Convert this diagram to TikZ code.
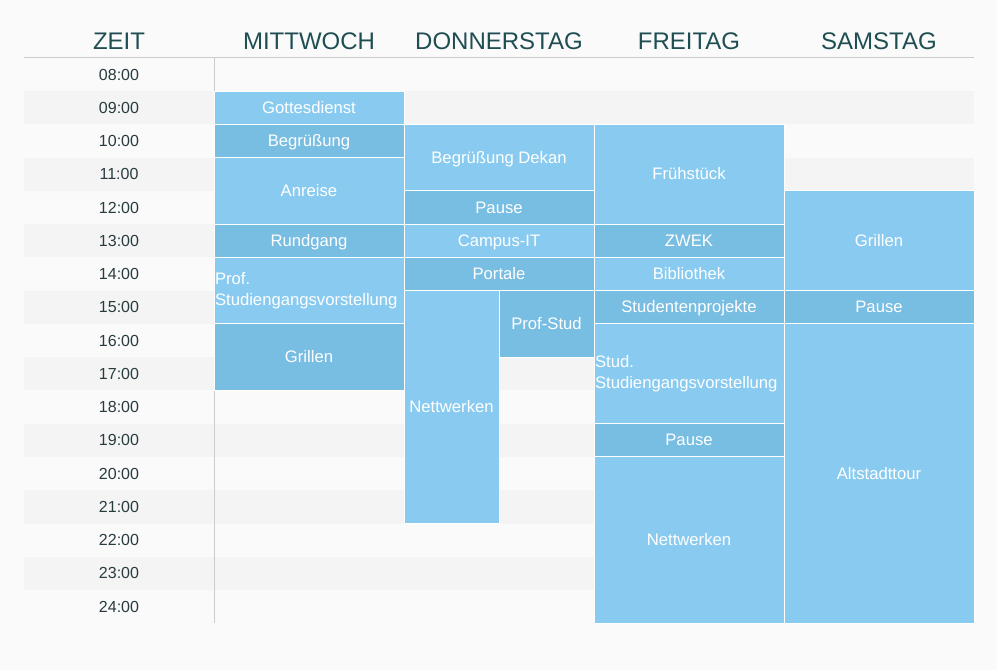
\documentclass[tikz,border=0pt]{standalone}
\usepackage{fontspec}
\setmainfont{Liberation Sans}
\usepackage{tikz}

\definecolor{pagebg}{HTML}{FAFAFA}
\definecolor{stripe}{HTML}{F4F4F4}
\definecolor{rulegray}{HTML}{CCCCCC}
\definecolor{headtext}{HTML}{1F4E52}
\definecolor{timetext}{HTML}{283C3F}
\definecolor{slotlight}{HTML}{89CBF0}
\definecolor{slotdark}{HTML}{78BDE2}

\begin{document}
\begin{tikzpicture}[x=0.75pt,y=-24.9375pt,
  dayhead/.style={anchor=base,text=headtext,font=\fontsize{18}{20}\selectfont},
  timelabel/.style={text=timetext,font=\fontsize{12}{14}\selectfont},
  slotbase/.style={draw=white,line width=0.75pt,fill=slotlight,text=white,inner sep=0pt,
    minimum width=142.5pt,font=\fontsize{12.5}{15.75}\selectfont},
  slot/.style={slotbase,text height=11pt,text depth=2.9pt},
  darkslot/.style={slot,fill=slotdark},
  half/.style={minimum width=71.25pt},
  hours/.style={minimum height=#1*24.9375pt},
  leftslot/.style={slotbase,align=left,text width=141pt}]

% background and stripes
\fill[pagebg] (0,-1.7444) rectangle (997,18.406);
\useasboundingbox (0,-1.7444) rectangle (997,18.406);
\foreach \i in {1,3,...,15}
  \fill[stripe] (24,\i) rectangle (974,\i+1);

% header
\node[dayhead] (zeit) at (119,-0.26) {ZEIT};
\node[dayhead] (mi) at (309,-0.26) {MITTWOCH};
\node[dayhead] (do) at (499,-0.26) {DONNERSTAG};
\node[dayhead] (fr) at (689,-0.26) {FREITAG};
\node[dayhead] (sa) at (879,-0.26) {SAMSTAG};
\draw[rulegray,line width=0.75pt] (24,0)--(974,0);
\draw[rulegray,line width=0.75pt] (214,0)--(214,17);

% times
\foreach \i/\t in {0/08,1/09,2/10,3/11,4/12,5/13,6/14,7/15,8/16,9/17,10/18,11/19,12/20,13/21,14/22,15/23,16/24}
  \node[timelabel] (t\t) at (119,\i+0.5) {\t:00};

% Mittwoch
\node[slot,hours=1] (mi1) at (309,1.5) {Gottesdienst};
\node[darkslot,hours=1] (mi2) at (309,2.5) {Begrüßung};
\node[slot,hours=2] (mi3) at (309,4) {Anreise};
\node[darkslot,hours=1] (mi4) at (309,5.5) {Rundgang};
\node[leftslot,hours=2] (mi5) at (309,7) {Prof.\\Studiengangsvorstellung};
\node[darkslot,hours=2] (mi6) at (309,9) {Grillen};

% Donnerstag
\node[slot,hours=2] (do1) at (499,3) {Begrüßung Dekan};
\node[darkslot,hours=1] (do2) at (499,4.5) {Pause};
\node[slot,hours=1] (do3) at (499,5.5) {Campus-IT};
\node[darkslot,hours=1] (do4) at (499,6.5) {Portale};
\node[slot,half,hours=7] (do5) at (451.5,10.5) {Nettwerken};
\node[darkslot,half,hours=2] (do6) at (546.5,8) {Prof-Stud};

% Freitag
\node[slot,hours=3] (fr1) at (689,3.5) {Frühstück};
\node[darkslot,hours=1] (fr2) at (689,5.5) {ZWEK};
\node[slot,hours=1] (fr3) at (689,6.5) {Bibliothek};
\node[darkslot,hours=1] (fr4) at (689,7.5) {Studentenprojekte};
\node[leftslot,hours=3] (fr5) at (689,9.5) {Stud.\\Studiengangsvorstellung};
\node[darkslot,hours=1] (fr6) at (689,11.5) {Pause};
\node[slot,hours=5] (fr7) at (689,14.5) {Nettwerken};

% Samstag
\node[slot,hours=3] (sa1) at (879,5.5) {Grillen};
\node[darkslot,hours=1] (sa2) at (879,7.5) {Pause};
\node[slot,hours=9] (sa3) at (879,12.5) {Altstadttour};
\end{tikzpicture}
\end{document}
